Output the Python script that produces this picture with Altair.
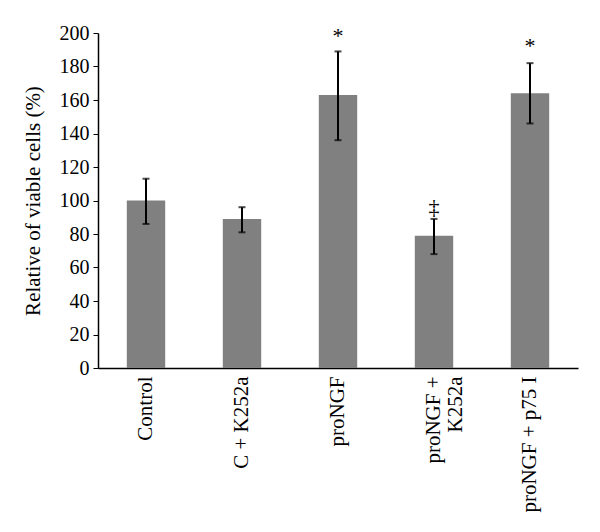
import altair as alt
import pandas as pd

categories = ["Control", "C + K252a", "proNGF", "proNGF +|K252a", "proNGF + p75 I"]
means = [100, 89, 163, 79, 164]
err_low = [86, 81, 136, 68, 146]
err_high = [113, 96, 189, 89, 182]
marks = ["", "", "*", "‡", "*"]
mark_pos = [None, None, 198, 96, 192]

df = pd.DataFrame({
    "cat": categories,
    "mean": means,
    "lo": err_low,
    "hi": err_high,
    "mark": marks,
    "mpos": mark_pos,
})

FONT = "Liberation Serif"
Y_TITLE = "Relative of viable cells (%)"

x_axis = alt.Axis(labelAngle=-90, labelFont=FONT, labelFontSize=21,
                  labelColor="black", ticks=False, domainColor="black",
                  domainWidth=1.5, labelPadding=8, labelLimit=300,
                  labelLineHeight=22,
                  labelExpr="split(datum.label, '|')")
x_scale = alt.Scale(paddingInner=0.6, paddingOuter=0.3)

y_axis = alt.Axis(values=list(range(0, 201, 20)), grid=False,
                  labelOverlap=False,
                  labelFont=FONT, labelFontSize=20, labelColor="black",
                  titleFont=FONT, titleFontSize=21, titleFontWeight="normal",
                  titleColor="black", domainColor="black", domainWidth=1.5,
                  tickColor="black", tickSize=5, labelPadding=4,
                  titlePadding=16)
y_scale = alt.Scale(domain=[0, 200])


def X():
    return alt.X("cat:N", sort=categories, title=None, scale=x_scale, axis=x_axis)


def Y(field):
    return alt.Y(field, scale=y_scale, title=Y_TITLE, axis=y_axis)


bars = alt.Chart(df).mark_bar(color="#808080").encode(x=X(), y=Y("mean:Q"))

rules = alt.Chart(df).mark_rule(color="black", strokeWidth=2).encode(
    x=X(), y=Y("lo:Q"), y2="hi:Q")

caps_lo = alt.Chart(df).mark_tick(color="black", thickness=2, size=7).encode(
    x=X(), y=Y("lo:Q"))
caps_hi = alt.Chart(df).mark_tick(color="black", thickness=2, size=7).encode(
    x=X(), y=Y("hi:Q"))

labels = alt.Chart(df).transform_filter("datum.mark != ''").mark_text(
    font=FONT, fontSize=22, color="black", baseline="middle").encode(
    x=X(), y=Y("mpos:Q"), text="mark:N")

chart = alt.layer(bars, rules, caps_lo, caps_hi, labels).properties(
    width=480, height=335,
    autosize=alt.AutoSizeParams(type="none"),
    padding={"left": 90, "top": 25, "right": 10, "bottom": 160},
).configure(font=FONT).configure_axis(
    labelFont=FONT, titleFont=FONT
).configure_view(stroke=None)

chart.save("out.html", embed_options={"renderer": "svg", "actions": False})
